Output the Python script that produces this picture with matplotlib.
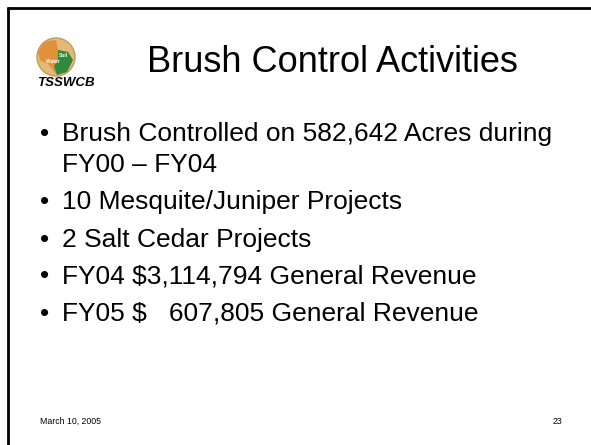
import matplotlib
matplotlib.use("Agg")
import matplotlib.pyplot as plt
from matplotlib.patches import Circle, Polygon

title = "Brush Control Activities"
bullets = [
    ["Brush Controlled on 582,642 Acres during", "FY00 \u2013 FY04"],
    ["10 Mesquite/Juniper Projects"],
    ["2 Salt Cedar Projects"],
    ["FY04 $3,114,794 General Revenue"],
    ["FY05 $   607,805 General Revenue"],
]
footer_date = "March 10, 2005"
page_no = "23"
logo_text = "TSSWCB"

plt.rcParams['font.family'] = ['Liberation Sans', 'DejaVu Sans']
fig = plt.figure(figsize=(5.91, 4.45), dpi=100)
ax = fig.add_axes([0, 0, 1, 1])
ax.set_xlim(0, 591)
ax.set_ylim(445, 0)
ax.axis('off')

# border (top and left)
ax.plot([7, 591], [8, 8], color='black', lw=2.0, solid_capstyle='butt')
ax.plot([8, 8], [7, 445], color='black', lw=2.0, solid_capstyle='butt')

# logo
ax.add_patch(Circle((56, 57), 19, facecolor='#e3b97a', edgecolor='#c99a55', lw=1))
ax.add_patch(Polygon([[44, 42], [56, 40], [58, 50], [68, 52], [72, 60], [66, 72],
                      [56, 74], [48, 64], [40, 60], [38, 52]], closed=True,
                     facecolor='#e0913a', edgecolor='none'))
ax.add_patch(Polygon([[58, 50], [68, 52], [73, 60], [67, 72], [57, 75], [54, 66], [58, 60]],
                     closed=True, facecolor='#2f8a3c', edgecolor='none'))
ax.text(63, 57, "Soil", fontsize=3.5, color='white', fontweight='bold', ha='center')
ax.text(53, 63, "Water", fontsize=3.5, color='white', fontweight='bold', ha='center')
ax.text(66, 86, logo_text, fontsize=9.5, fontweight='bold', style='italic',
        ha='center', va='baseline', color='black')

# title
ax.text(332, 72, title, fontsize=26, ha='center', va='baseline', color='black')

# bullets
y = 140.5
lh = 32
gap = 37
for item in bullets:
    ax.text(45, y, "\u2022", fontsize=19, ha='center', va='baseline', color='black')
    for j, line in enumerate(item):
        ax.text(62, y + j * lh, line, fontsize=19, ha='left', va='baseline', color='black')
    y += (len(item) - 1) * lh + gap

# footer
ax.text(40, 424, footer_date, fontsize=6.3, ha='left', va='baseline', color='black')
ax.text(562, 424, page_no, fontsize=6.3, ha='right', va='baseline', color='black')

fig.savefig("out.png", dpi=100)
